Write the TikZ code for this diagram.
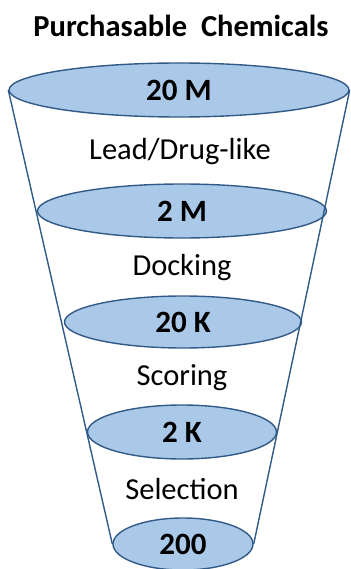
\documentclass[tikz,border=0pt]{standalone}
\usepackage{fontspec}
\setmainfont{Carlito}
\usetikzlibrary{shapes.geometric}
\definecolor{discfill}{RGB}{170,200,232}
\definecolor{discline}{RGB}{50,90,135}
\begin{document}
\begin{tikzpicture}[x=1pt,y=-1pt,
  disc/.style={ellipse, draw=discline, fill=discfill, line width=1.4pt, inner sep=0pt, font=\fontsize{31}{34}\selectfont\bfseries},
  stage/.style={font=\fontsize{30.5}{33}\selectfont},
  side/.style={draw=discline, line width=1.4pt}]
\useasboundingbox (0,0) rectangle (350,569);
\clip (0,0) rectangle (350,569);
\node[font=\fontsize{30.5}{34}\selectfont\bfseries] (title) at (181,26) {Purchasable\hspace{14pt}Chemicals};
\node[disc, minimum width=340pt, minimum height=54pt] (d1) at (179,90) {20 M};
\node[disc, minimum width=289pt, minimum height=54pt] (d2) at (182,211) {2 M};
\node[disc, minimum width=237pt, minimum height=52pt] (d3) at (183,322) {20 K};
\node[disc, minimum width=189pt, minimum height=54pt] (d4) at (182,432) {2 K};
\node[disc, minimum width=140pt, minimum height=52pt] (d5) at (183,544) {200};
\node[stage] (s1) at (180,152) {Lead/Drug-like};
\node[stage] (s2) at (182,268) {Docking};
\node[stage] (s3) at (182,378) {Scoring};
\node[stage] (s4) at (182,489) {Selection};
\draw[side] (d1.west) -- (d5.west);
\draw[side] (d1.east) -- (d5.east);
\end{tikzpicture}
\end{document}
